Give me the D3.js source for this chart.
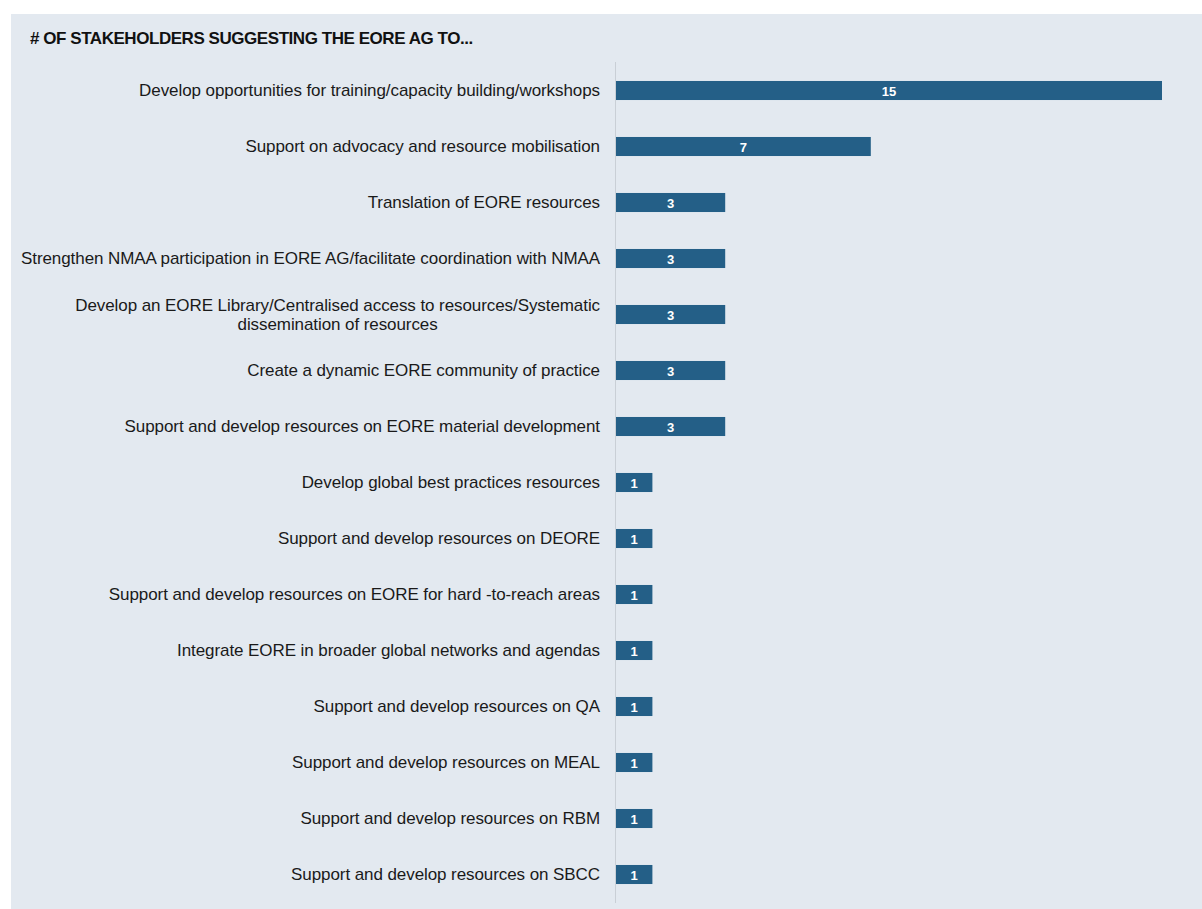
<!DOCTYPE html>
<html><head><meta charset="utf-8">
<script src="https://cdn.jsdelivr.net/npm/d3@7"></script>
<style>
html,body{margin:0;padding:0;background:#fff;}
svg{display:block;}
text{font-family:"Liberation Sans",Arial,sans-serif;}
</style></head>
<body>
<script>
const title = "# OF STAKEHOLDERS SUGGESTING THE EORE AG TO...";
const categories = [
  ["Develop opportunities for training/capacity building/workshops"],
  ["Support on advocacy and resource mobilisation"],
  ["Translation of EORE resources"],
  ["Strengthen NMAA participation in EORE AG/facilitate coordination with NMAA"],
  ["Develop an EORE Library/Centralised access to resources/Systematic", "dissemination of resources"],
  ["Create a dynamic EORE community of practice"],
  ["Support and develop resources on EORE material development"],
  ["Develop global best practices resources"],
  ["Support and develop resources on DEORE"],
  ["Support and develop resources on EORE for hard -to-reach areas"],
  ["Integrate EORE in broader global networks and agendas"],
  ["Support and develop resources on QA"],
  ["Support and develop resources on MEAL"],
  ["Support and develop resources on RBM"],
  ["Support and develop resources on SBCC"]
];
const values = [15, 7, 3, 3, 3, 3, 3, 1, 1, 1, 1, 1, 1, 1, 1];

const W = 1202, H = 909;
const svg = d3.select("body").append("svg").attr("width", W).attr("height", H);
svg.append("rect").attr("x", 11).attr("y", 14).attr("width", W - 11).attr("height", H - 14).attr("fill", "#e3e9f0");
svg.append("text").attr("x", 30).attr("y", 44).text(title)
  .attr("font-size", 17).attr("font-weight", "bold").attr("fill", "#111").attr("letter-spacing", -0.45);

const idx = d3.range(values.length);
const y = d3.scaleBand().domain(idx).range([62.5, 902.5]).paddingInner(0.66).paddingOuter(0.33);
const x = d3.scaleLinear().domain([0, 15]).range([616, 1162]);

svg.append("line").attr("x1", 615.5).attr("x2", 615.5).attr("y1", 62).attr("y2", 903)
  .attr("stroke", "#c9cfd6").attr("stroke-width", 1);

const g = svg.append("g");
g.selectAll("rect.bar").data(idx).join("rect").attr("class", "bar")
  .attr("x", x(0)).attr("y", i => y(i)).attr("width", i => x(values[i]) - x(0))
  .attr("height", y.bandwidth()).attr("fill", "#245f87");
g.selectAll("text.val").data(idx).join("text").attr("class", "val")
  .attr("x", i => (x(values[i]) + x(0)) / 2).attr("y", i => y(i) + y.bandwidth() / 2 + 5)
  .attr("text-anchor", "middle").attr("font-size", 13).attr("font-weight", "bold").attr("fill", "#fff")
  .text(i => values[i]);

const lab = g.selectAll("text.lab").data(idx).join("text").attr("class", "lab")
  .attr("text-anchor", "middle").attr("font-size", 17).attr("fill", "#1a1a1a").attr("letter-spacing", -0.08);
lab.each(function(i) {
  const t = d3.select(this);
  const lines = categories[i];
  const cy = y(i) + y.bandwidth() / 2;
  const lh = 19;
  lines.forEach((s, k) => {
    t.append("tspan").attr("y", cy + 5.5 + (k - (lines.length - 1) / 2) * lh).text(s);
  });
});
lab.each(function(i) {
  const t = d3.select(this);
  const tspans = t.selectAll("tspan").nodes();
  const widths = tspans.map(n => n.getComputedTextLength());
  const maxW = d3.max(widths);
  const cx = 600 - maxW / 2;
  tspans.forEach(n => d3.select(n).attr("x", cx));
});
</script>
</body></html>
